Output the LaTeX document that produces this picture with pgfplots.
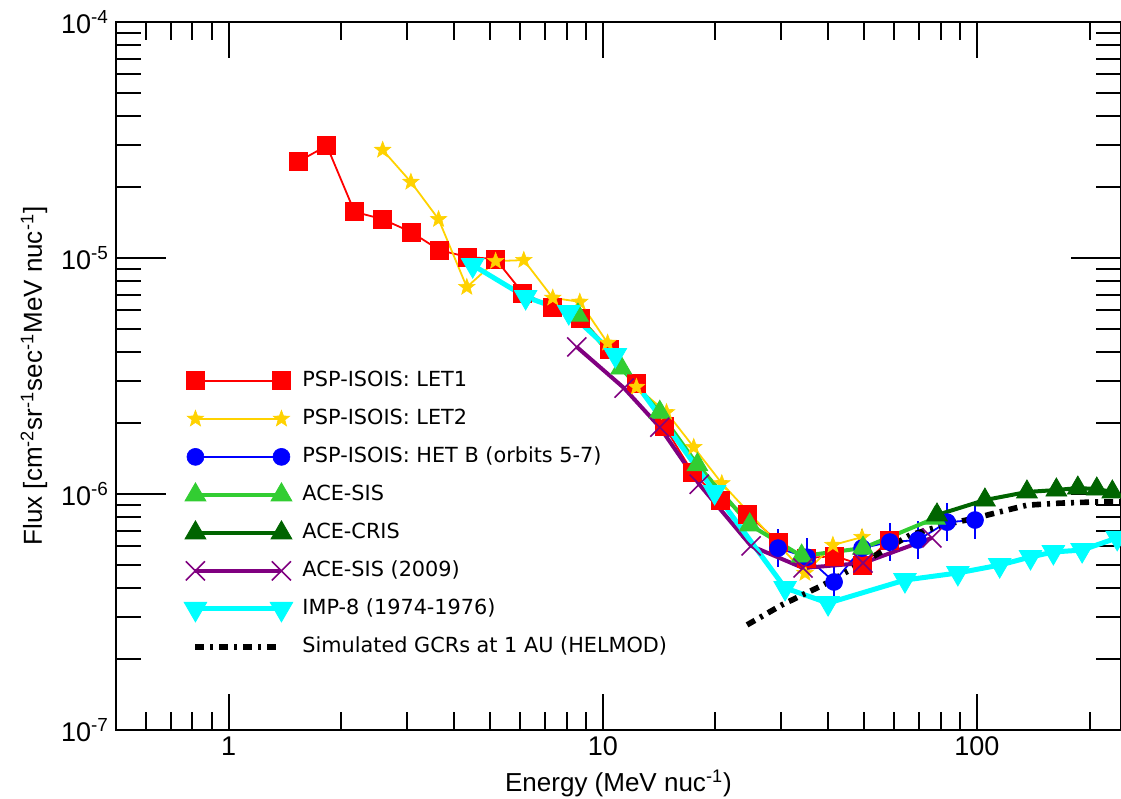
\documentclass[border=0pt]{standalone}
\usepackage{fontspec}
\setmainfont{Liberation Sans}
\newfontfamily\legfont{DejaVu Sans}
\usepackage{pgfplots}
\pgfplotsset{compat=1.18}

\definecolor{letred}{RGB}{255,0,0}
\definecolor{letgold}{RGB}{255,210,0}
\definecolor{hetblue}{RGB}{0,0,255}
\definecolor{sisgreen}{RGB}{50,205,50}
\definecolor{crisgreen}{RGB}{0,100,0}
\definecolor{sispurple}{RGB}{128,0,128}
\definecolor{impcyan}{RGB}{0,255,255}

% filled five-pointed star
\pgfdeclareplotmark{fstar}{%
  \pgfpathmoveto{\pgfpointpolar{90}{\pgfplotmarksize}}%
  \pgfpathlineto{\pgfpointpolar{126}{0.42\pgfplotmarksize}}%
  \pgfpathlineto{\pgfpointpolar{162}{\pgfplotmarksize}}%
  \pgfpathlineto{\pgfpointpolar{198}{0.42\pgfplotmarksize}}%
  \pgfpathlineto{\pgfpointpolar{234}{\pgfplotmarksize}}%
  \pgfpathlineto{\pgfpointpolar{270}{0.42\pgfplotmarksize}}%
  \pgfpathlineto{\pgfpointpolar{306}{\pgfplotmarksize}}%
  \pgfpathlineto{\pgfpointpolar{342}{0.42\pgfplotmarksize}}%
  \pgfpathlineto{\pgfpointpolar{18}{\pgfplotmarksize}}%
  \pgfpathlineto{\pgfpointpolar{54}{0.42\pgfplotmarksize}}%
  \pgfpathclose
  \pgfusepathqfillstroke}

\begin{document}
\begin{tikzpicture}
\begin{axis}[
  name=ax,
  xmode=log, ymode=log,
  scale only axis,
  width=502.5pt, height=354pt,
  xmin=0.5, xmax=242.6,
  ymin=1e-7, ymax=1e-4,
  xtick={1,10,100},
  xticklabels={1,10,100},
  ytick={1e-7,1e-6,1e-5,1e-4},
  yticklabels={10\textsuperscript{-7},10\textsuperscript{-6},10\textsuperscript{-5},10\textsuperscript{-4}},
  minor xtick={0.6,0.7,0.8,0.9,2,3,4,5,6,7,8,9,20,30,40,50,60,70,80,90,200},
  minor ytick={2e-7,3e-7,4e-7,5e-7,6e-7,7e-7,8e-7,9e-7,
               2e-6,3e-6,4e-6,5e-6,6e-6,7e-6,8e-6,9e-6,
               2e-5,3e-5,4e-5,5e-5,6e-5,7e-5,8e-5,9e-5},
  axis line style={line width=1pt},
  tick style={black, line width=1pt},
  xtick style={/pgfplots/major tick length=18pt, /pgfplots/minor tick length=9pt},
  ytick style={/pgfplots/major tick length=25pt, /pgfplots/minor tick length=12.5pt},
  tick label style={font=\fontsize{13.5}{16}\selectfont},
  label style={font=\fontsize{13}{15.5}\selectfont},
  xlabel={Energy (MeV nuc\textsuperscript{-1})},
  ylabel={Flux [cm\textsuperscript{-2}sr\textsuperscript{-1}sec\textsuperscript{-1}MeV nuc\textsuperscript{-1}]},
  legend cell align=left,
  legend image code/.code={%
    \draw[#1, overlay] plot coordinates {(0pt,0pt) (43pt,0pt)};
    \path[draw=none, fill=none] (-4.5pt,-1pt) rectangle (43pt,1pt);},
  legend style={draw=none, fill=none, inner sep=0pt, outer sep=0pt,
    at={(rel axis cs:0.0701,0.508)}, anchor=north west,
    font=\legfont\fontsize{10.4}{12.5}\selectfont,
    nodes={inner sep=0pt, text height=8pt, text depth=2.5pt},
    row sep=8.5pt, column sep=10.5pt},
]
% PSP-ISOIS LET1
\addplot[color=letred, line width=0.9pt, mark=square*, mark size=4.5pt,
  mark options={solid, line width=0.4pt}] coordinates {
  (1.54,2.57e-5) (1.83,2.99e-5) (2.17,1.57e-5) (2.58,1.46e-5) (3.07,1.29e-5)
  (3.66,1.08e-5) (4.35,1.01e-5) (5.17,9.9e-6) (6.11,7.11e-6) (7.35,6.2e-6)
  (8.73,5.57e-6) (10.4,4.11e-6) (12.3,2.95e-6) (14.6,1.94e-6) (17.4,1.23e-6)
  (20.6,9.44e-7) (24.4,8.22e-7) (29.4,6.26e-7) (34.9,5.35e-7) (41.7,5.46e-7)
  (49.3,5.0e-7) (58.5,6.38e-7)
};
\addlegendentry{PSP-ISOIS: LET1}
% PSP-ISOIS LET2
\addplot[color=letgold, line width=0.9pt, mark=fstar, mark size=4.3pt,
  mark options={solid, line width=0.3pt}] coordinates {
  (2.58,2.87e-5) (3.07,2.10e-5) (3.64,1.46e-5) (4.33,7.53e-6) (5.17,9.7e-6)
  (6.15,9.8e-6) (7.35,6.78e-6) (8.68,6.52e-6) (10.3,4.37e-6) (12.3,2.84e-6)
  (14.8,2.22e-6) (17.5,1.58e-6) (20.8,1.11e-6) (34.7,4.62e-7) (41.2,6.08e-7)
  (49.3,6.57e-7)
};
\addlegendentry{PSP-ISOIS: LET2}
% PSP-ISOIS HET B
\addplot[color=hetblue, line width=0.9pt, mark=*, mark size=4.25pt,
  mark options={solid, line width=0.3pt},
  error bars/.cd, y dir=both, y explicit relative, error mark=none,
  error bar style={line width=1pt}] coordinates {
  (29.4,5.90e-7) += (0,0.2) -= (0,0.17)
  (35.1,5.40e-7) += (0,0.2) -= (0,0.17)
  (41.5,4.24e-7) += (0,0.2) -= (0,0.17)
  (49.3,5.90e-7) += (0,0.2) -= (0,0.17)
  (58.5,6.26e-7) += (0,0.2) -= (0,0.17)
  (69.5,6.38e-7) += (0,0.2) -= (0,0.17)
  (83.2,7.60e-7) += (0,0.2) -= (0,0.17)
  (98.8,7.76e-7) += (0,0.2) -= (0,0.17)
};
\addlegendentry{PSP-ISOIS: HET B (orbits 5-7)}
% ACE-SIS
\addplot[color=sisgreen, line width=2pt, mark=triangle*, mark size=6pt,
  mark options={solid, line width=0.4pt}] coordinates {
  (8.58,5.73e-6) (11.2,3.42e-6) (14.2,2.22e-6) (17.9,1.33e-6) (24.7,7.4e-7)
  (34.0,5.46e-7) (49.6,5.9e-7) (77.2,7.9e-7)
};
\addlegendentry{ACE-SIS}
% ACE-CRIS
\addplot[color=crisgreen, line width=2pt, mark=triangle*, mark size=6pt,
  mark options={solid, line width=0.4pt}] coordinates {
  (78.2,8.15e-7) (105,9.43e-7) (136,1.02e-6) (163,1.04e-6) (186,1.06e-6)
  (209,1.05e-6) (230,1.02e-6)
};
\addlegendentry{ACE-CRIS}
% ACE-SIS (2009)
\addplot[color=sispurple, line width=2pt, mark=x, mark size=6.75pt,
  mark options={solid, line width=0.8pt}] coordinates {
  (8.52,4.2e-6) (11.4,2.81e-6) (14.2,1.92e-6) (18.1,1.10e-6) (24.9,6.03e-7)
  (34.3,4.86e-7) (49.6,5.1e-7) (75.8,6.52e-7)
};
\addlegendentry{ACE-SIS (2009)}
% IMP-8
\addplot[color=impcyan, line width=2.5pt, mark=triangle*, mark size=6.5pt,
  mark options={solid, rotate=180, line width=0.4pt}] coordinates {
  (4.49,9.33e-6) (6.22,6.84e-6) (8.11,5.9e-6) (10.8,3.88e-6) (19.9,1.02e-6)
  (30.7,4.0e-7) (40.0,3.45e-7) (64.2,4.32e-7) (88.9,4.63e-7) (115,5.0e-7)
  (139,5.41e-7) (160,5.68e-7) (191,5.79e-7) (237,6.52e-7)
};
\addlegendentry{IMP-8 (1974-1976)}
% HELMOD simulation
\addplot[color=black, line width=2.8pt, no marks,
  dash pattern=on 4.5pt off 3pt on 1.5pt off 3pt] coordinates {
  (24.3,2.79e-7) (30.1,3.39e-7) (38.7,4.11e-7) (47.8,4.95e-7) (66.2,6.7e-7)
  (83.2,7.46e-7) (98.8,7.9e-7) (115,8.4e-7) (136,8.97e-7) (167,9.15e-7)
  (204,9.25e-7) (241,9.25e-7)
};
\addlegendentry{Simulated GCRs at 1 AU (HELMOD)}
\end{axis}
\pgfresetboundingbox
\path ([shift={(-58pt,-34pt)}]ax.south west) rectangle ([shift={(0pt,11pt)}]ax.north east);
\end{tikzpicture}
\end{document}
